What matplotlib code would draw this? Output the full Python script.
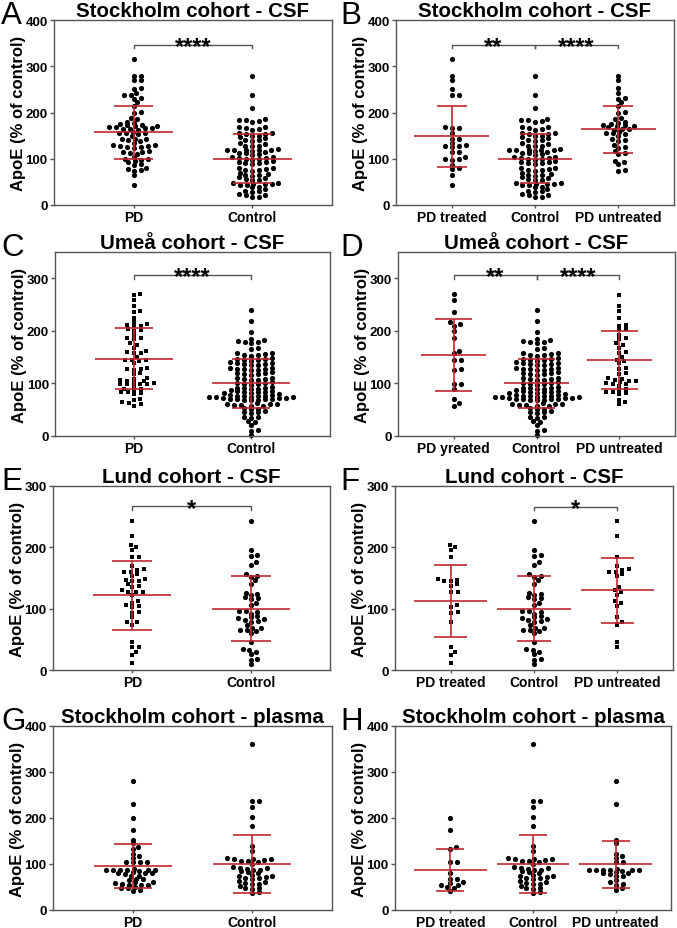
import numpy as np
import matplotlib
matplotlib.use('Agg')
import matplotlib.pyplot as plt

plt.rcParams['font.family'] = ['Liberation Sans', 'DejaVu Sans']

# ---- data (ApoE, % of control) ----
sthlm_csf_treated = [315, 280, 271, 251, 237, 237, 168, 166, 166, 156, 143, 143, 135, 130,
                     128, 128, 126, 115, 115, 103, 100, 99, 98, 87, 80, 78, 65, 43]
sthlm_csf_untreated = [280, 270, 252, 242, 232, 230, 222, 215, 201, 200, 189, 185, 180, 178,
                       175, 173, 172, 171, 170, 168, 165, 165, 163, 158, 156, 155, 153, 150,
                       142, 140, 138, 130, 126, 124, 117, 112, 110, 95, 92, 88, 75, 74]
sthlm_csf_ctrl = [280, 237, 210, 187, 184, 183, 182, 180, 168, 168, 167, 164, 163, 156, 155,
                  154, 153, 150, 149, 146, 144, 141, 140, 139, 133, 131, 128, 127, 127, 121,
                  120, 120, 119, 118, 118, 116, 115, 113, 112, 110, 108, 104, 103, 102, 101,
                  100, 99, 97, 95, 94, 92, 91, 90, 89, 80, 79, 77, 76, 75, 74, 70, 66, 65,
                  64, 63, 60, 59, 57, 55, 54, 48, 47, 46, 45, 45, 44, 43, 40, 38, 35, 31,
                  30, 29, 23, 22, 21, 18, 17]

umea_treated = [271, 259, 235, 216, 213, 210, 200, 186, 162, 157, 145, 145, 127, 125, 98, 98,
                90, 71, 63, 58]
umea_untreated = [268, 248, 238, 225, 211, 209, 204, 202, 193, 186, 184, 176, 174, 168, 160,
                  157, 150, 145, 143, 138, 130, 127, 120, 117, 110, 109, 107, 105, 104, 102,
                  100, 99, 98, 95, 90, 88, 84, 84, 82, 80, 68, 64, 60]
umea_ctrl = [239, 218, 197, 184, 182, 180, 179, 178, 176, 167, 165, 158, 157, 156, 155, 154,
             153, 148, 147, 146, 145, 144, 143, 140, 139, 138, 137, 137, 136, 135, 130, 129,
             128, 128, 127, 126, 125, 121, 120, 119, 118, 117, 116, 111, 110, 109, 108, 107,
             106, 102, 101, 100, 99, 98, 97, 93, 92, 91, 91, 90, 89, 88, 86, 85, 84, 84, 83,
             82, 81, 79, 78, 78, 77, 77, 76, 76, 75, 75, 74, 74, 73, 72, 72, 71, 71, 70, 70,
             69, 69, 68, 62, 61, 60, 60, 59, 59, 58, 57, 53, 52, 51, 47, 46, 45, 44, 37, 36,
             35, 28, 26, 20, 12, 10, 2]

lund_treated = [204, 200, 195, 185, 148, 147, 145, 145, 140, 137, 127, 127, 106, 103, 94, 93,
                78, 38, 30, 25, 12]
lund_untreated = [243, 218, 184, 170, 165, 163, 160, 160, 157, 153, 135, 130, 127, 122, 113,
                  110, 105, 87, 78, 74, 46, 38]
lund_ctrl = [243, 195, 188, 186, 176, 172, 156, 154, 152, 146, 141, 126, 124, 122, 119, 117,
             116, 110, 106, 97, 96, 94, 92, 88, 86, 84, 83, 82, 80, 79, 73, 69, 68, 66, 65,
             64, 60, 45, 34, 32, 30, 26, 18, 16, 9]

plasma_treated = [200, 173, 138, 133, 105, 105, 80, 68, 68, 60, 58, 55, 54, 50, 48, 41]
plasma_untreated = [280, 230, 153, 145, 122, 118, 114, 105, 105, 90, 88, 88, 88, 88, 87, 87,
                    85, 82, 80, 80, 78, 75, 74, 65, 60, 57, 55, 47, 43]
plasma_ctrl = [360, 238, 237, 225, 202, 182, 140, 128, 112, 111, 111, 110, 108, 107, 106, 105,
               100, 93, 92, 91, 90, 88, 87, 84, 82, 80, 76, 75, 74, 71, 70, 69, 68, 62, 61,
               58, 57, 56, 52, 48, 47, 46, 40, 38]

# mean and SD shown by the red bars
mean_a = [157, 100]; sd_a = [57, 53.5]
mean_b = [148.5, 100, 164]; sd_b = [66, 53.5, 50.5]
mean_c = [147, 100]; sd_c = [58, 47]
mean_d = [155, 100, 144]; sd_d = [68.5, 47, 55]
mean_e = [121.5, 100]; sd_e = [56, 53]
mean_f = [112.5, 100, 130]; sd_f = [58.5, 53, 53]
mean_g = [95.5, 100]; sd_g = [48.5, 62.5]
mean_h = [87, 100, 99]; sd_h = [46, 62.5, 51]

cats2 = ['PD', 'Control']
cats3 = ['PD treated', 'Control', 'PD untreated']
cats3_d = ['PD yreated', 'Control', 'PD untreated']

W, H = 677, 929
RED = '#c0272d'
GREY = '#555555'
fig = plt.figure(figsize=(W / 100, H / 100), dpi=100)


def swarm_offsets(vals, px_per_y, sx=6.8, sy=3.6):
    # greedy swarm in pixel space, elliptical spacing
    order = np.argsort(vals)
    px_l, py_l = [], []
    offs = np.zeros(len(vals))
    for i in order:
        y = vals[i] * px_per_y
        k = 0
        while True:
            step = ((k + 1) // 2) * 0.5
            x = step if k % 2 else -step
            ok = True
            for px, py in zip(px_l, py_l):
                if abs(py - y) < sy and ((x - px) / sx) ** 2 + ((y - py) / sy) ** 2 < 1:
                    ok = False
                    break
            if ok:
                break
            k += 1
        px_l.append(x)
        py_l.append(y)
        offs[i] = x
    return offs


def panel(rect, letter, title, cats, groups, markers, means, sds, ylim, yticks,
          mean_w, cap_w, brackets=(), br_y=None):
    l, t, r, b = rect
    ax = fig.add_axes([l / W, 1 - b / H, (r - l) / W, (b - t) / H])
    n = len(cats)
    xlim = (-0.67, n - 1 + 0.67)
    ax.set_xlim(xlim)
    ax.set_ylim(ylim)
    px_x = (r - l) / (xlim[1] - xlim[0])
    px_y = (b - t) / (ylim[1] - ylim[0])
    for i, (vals, m) in enumerate(zip(groups, markers)):
        vals = np.asarray(vals, float)
        offs = swarm_offsets(vals, px_y) / px_x
        ax.scatter(i + offs, vals, s=14 if m == 'o' else 12, marker=m, c='black',
                   linewidths=0, zorder=2, clip_on=False)
        lo, hi = means[i] - sds[i], means[i] + sds[i]
        ax.hlines(means[i], i - mean_w, i + mean_w, color=RED, lw=1.2, zorder=3)
        ax.hlines([lo, hi], i - cap_w, i + cap_w, color=RED, lw=1.2, zorder=3)
        ax.vlines(i, lo, hi, color=RED, lw=1.2, zorder=3)
    tick = 3.5 / px_y
    for x0, x1, stars in brackets:
        ax.plot([x0, x0, x1, x1], [br_y - tick, br_y, br_y, br_y - tick], color=GREY,
                lw=1, clip_on=False)
        ax.annotate(stars, xy=((x0 + x1) / 2, br_y), xytext=(0, -6),
                    textcoords='offset points', ha='center', va='baseline',
                    fontsize=17, fontweight='bold')
    ax.set_xticks(range(n))
    ax.set_xticklabels(cats, fontsize=10, fontweight='bold')
    ax.set_yticks(yticks)
    ax.set_yticklabels([str(v) for v in yticks], fontsize=9.5, fontweight='bold')
    ax.tick_params(axis='y', length=3, width=1, color=GREY, pad=1.5)
    ax.tick_params(axis='x', length=2, width=1, color=GREY, pad=1.5)
    for s in ax.spines.values():
        s.set_color(GREY)
        s.set_linewidth(1)
    ax.set_ylabel('ApoE (% of control)', fontsize=12, fontweight='bold')
    ax.yaxis.set_label_coords(-28 / (r - l), 0.5)
    ax.set_title(title, fontsize=14.8, fontweight='bold', pad=3)
    lx = 1 if l < 200 else 340
    fig.text(lx / W, 1 - (t + 3) / H, letter, fontsize=22.5, ha='left', va='baseline')
    return ax


sthlm_csf_pd = sthlm_csf_treated + sthlm_csf_untreated
umea_pd = umea_treated + umea_untreated
lund_pd = lund_treated + lund_untreated
plasma_pd = plasma_treated + plasma_untreated

panel((54, 21, 332, 206), 'A', 'Stockholm cohort - CSF', cats2,
      [sthlm_csf_pd, sthlm_csf_ctrl], ['o', 'o'], mean_a, sd_a, (0, 400),
      [0, 100, 200, 300, 400], 0.33, 0.165, [(0, 1, '****')], 346)
panel((396, 21, 674, 206), 'B', 'Stockholm cohort - CSF', cats3,
      [sthlm_csf_treated, sthlm_csf_ctrl, sthlm_csf_untreated], ['o', 'o', 'o'],
      mean_b, sd_b, (0, 400), [0, 100, 200, 300, 400], 0.45, 0.18,
      [(0, 1, '**'), (1, 2, '****')], 346)
panel((55, 253, 330, 437), 'C', 'Umeå cohort - CSF', cats2,
      [umea_pd, umea_ctrl], ['s', 'o'], mean_c, sd_c, (0, 350),
      [0, 100, 200, 300], 0.33, 0.16, [(0, 1, '****')], 306)
panel((398, 253, 675, 437), 'D', 'Umeå cohort - CSF', cats3_d,
      [umea_treated, umea_ctrl, umea_untreated], ['o', 'o', 's'],
      mean_d, sd_d, (0, 350), [0, 100, 200, 300], 0.39, 0.22,
      [(0, 1, '**'), (1, 2, '****')], 306)
panel((53, 487, 330, 671), 'E', 'Lund cohort - CSF', cats2,
      [lund_pd, lund_ctrl], ['s', 'o'], mean_e, sd_e, (0, 300),
      [0, 100, 200, 300], 0.33, 0.17, [(0, 1, '*')], 267)
panel((395, 487, 673, 671), 'F', 'Lund cohort - CSF', cats3,
      [lund_treated, lund_ctrl, lund_untreated], ['s', 'o', 's'],
      mean_f, sd_f, (0, 300), [0, 100, 200, 300], 0.44, 0.2,
      [(1, 2, '*')], 266)
panel((53, 727, 332, 911), 'G', 'Stockholm cohort - plasma', cats2,
      [plasma_pd, plasma_ctrl], ['o', 'o'], mean_g, sd_g, (0, 400),
      [0, 100, 200, 300, 400], 0.33, 0.16)
panel((395, 727, 671, 911), 'H', 'Stockholm cohort - plasma', cats3,
      [plasma_treated, plasma_ctrl, plasma_untreated], ['o', 'o', 'o'],
      mean_h, sd_h, (0, 400), [0, 100, 200, 300, 400], 0.44, 0.17)

fig.savefig('out.png', dpi=100)
